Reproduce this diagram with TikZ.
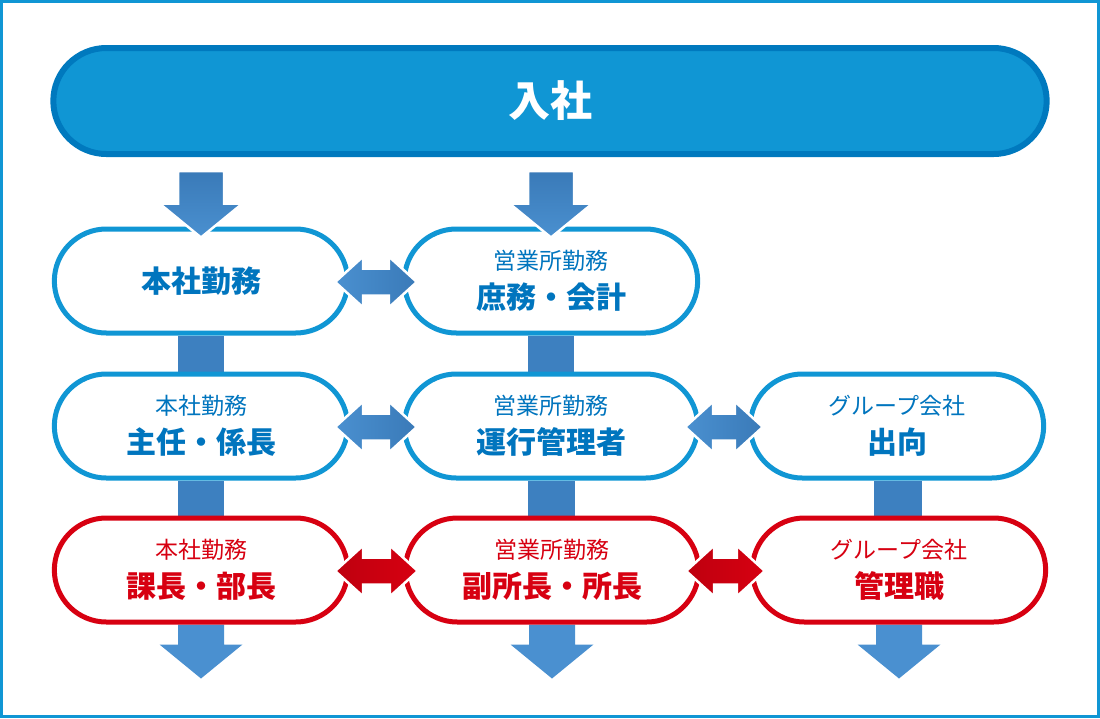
\documentclass[tikz,border=0pt]{standalone}
\usepackage{fontspec}
\newfontfamily\jpfont{Noto Sans CJK JP}
\usepackage{tikz}
\usetikzlibrary{shapes.misc, calc, backgrounds}
\definecolor{careerBlue}{RGB}{16,150,212}
\definecolor{careerText}{RGB}{0,117,190}
\definecolor{barEdge}{RGB}{0,121,190}
\definecolor{careerRed}{RGB}{215,0,17}
\definecolor{redDark}{RGB}{190,0,15}
\definecolor{arrDark}{RGB}{58,122,184}
\definecolor{arrLight}{RGB}{74,144,208}
\definecolor{shaftBlue}{RGB}{61,128,192}

\newcommand{\subline}[1]{{\mdseries\fontsize{23}{39}\selectfont #1}}
% block arrow pointing down: style, top centre, tip
\newcommand{\blockdown}[3]{%
  \path[#1] ($(#2)+(-23,0)$) -- ($(#2)+(23,0)$) -- ($(#3)+(23,-34)$)
    -- ($(#3)+(41.5,-34)$) -- (#3) -- ($(#3)+(-41.5,-34)$)
    -- ($(#3)+(-23,-34)$) -- cycle;}
% block arrow with two heads: style, left tip, right tip
\newcommand{\blockboth}[3]{%
  \path[#1] (#2) -- ($(#2)+(28,-25.5)$) -- ($(#2)+(28,-13.5)$)
    -- ($(#3)+(-28,-13.5)$) -- ($(#3)+(-28,-25.5)$) -- (#3)
    -- ($(#3)+(-28,25.5)$) -- ($(#3)+(-28,13.5)$)
    -- ($(#2)+(28,13.5)$) -- ($(#2)+(28,25.5)$) -- cycle;}

\begin{document}
\begin{tikzpicture}[x=1pt, y=-1pt,
  box/.style={rounded rectangle, draw=careerBlue, fill=white, line width=5pt,
              minimum width=300pt, minimum height=104pt, align=center,
              text=careerText, font=\jpfont\fontsize{30}{39}\selectfont\bfseries},
  redbox/.style={box, draw=careerRed, text=careerRed},
  topbar/.style={rounded rectangle, draw=barEdge, fill=careerBlue, line width=6pt,
                 minimum width=1000pt, minimum height=106pt, text=white,
                 font=\jpfont\fontsize{42}{42}\selectfont\bfseries},
  downarr/.style={top color=arrDark, bottom color=arrLight, draw=white, line width=2.5pt},
  shaft/.style={fill=shaftBlue},
  endarr/.style={fill=arrLight},
  botharr/.style={left color=arrLight, right color=arrDark, draw=white, line width=2.5pt},
  redarr/.style={left color=redDark, right color=careerRed, draw=white, line width=2.5pt},
]
  \useasboundingbox (0,0) rectangle (1100,718);
  % Frame
  \draw[careerBlue, line width=3pt] (1.5,1.5) rectangle (1098.5,716.5);

  % Entry
  \node[topbar] (start) at (550,101) {入社};

  % Career steps
  \node[box] (hq1) at (201,281) {本社勤務};
  \node[box] (br1) at (551,281) {\subline{営業所勤務}\\庶務・会計};
  \node[box] (hq2) at (201,426) {\subline{本社勤務}\\主任・係長};
  \node[box] (br2) at (551,426) {\subline{営業所勤務}\\運行管理者};
  \node[box] (gr2) at (897,426) {\subline{グループ会社}\\出向};
  \node[redbox] (hq3) at (201,570) {\subline{本社勤務}\\課長・部長};
  \node[redbox] (br3) at (552,570) {\subline{営業所勤務}\\副所長・所長};
  \node[redbox] (gr3) at (899,570) {\subline{グループ会社}\\管理職};

  % Shafts and end arrows behind the boxes
  \begin{scope}[on background layer]
    \foreach \a/\b in {hq1/hq2, hq2/hq3, br1/br2, br2/br3, gr2/gr3}
      \fill[shaft] ($(\a.south)+(-23,0)$) rectangle ($(\b.north)+(23,0)$);
    \foreach \a in {hq3, br3, gr3} {
      \coordinate (\a-tip) at ($(\a.south)+(0,54)$);
      \blockdown{endarr}{\a.south}{\a-tip}
    }
  \end{scope}

  % Arrows from the entry
  \foreach \n in {hq1, br1} {
    \coordinate (\n-in) at ($(start.south -| \n.north)+(0,14)$);
    \coordinate (\n-tip) at ($(\n.north)+(0,11)$);
    \blockdown{downarr}{\n-in}{\n-tip}
  }

  % Transfers
  \foreach \a/\b/\s in {hq1/br1/botharr, hq2/br2/botharr, br2/gr2/botharr,
                        hq3/br3/redarr, br3/gr3/redarr} {
    \coordinate (\a-l) at ($(\a.east)+(-15,1)$);
    \coordinate (\a-r) at ($(\b.west)+(15,1)$);
    \blockboth{\s}{\a-l}{\a-r}
  }
\end{tikzpicture}
\end{document}
